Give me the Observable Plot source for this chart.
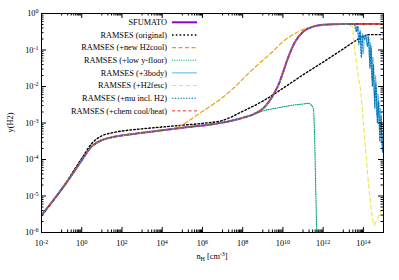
<!DOCTYPE html>
<html><head><meta charset="utf-8">
<script src="https://cdn.jsdelivr.net/npm/d3@7"></script>
<script src="https://cdn.jsdelivr.net/npm/@observablehq/plot@0.6"></script>
<style>body{margin:0;background:#fff}</style>
</head><body><div id="chart"></div>
<script>
// ---- tick labels (exponents of 10) ----
const xTickExp = [-2, 0, 2, 4, 6, 8, 10, 12, 14];
const yTickExp = [-6, -5, -4, -3, -2, -1, 0];

// ---- series names ----
const seriesNames = ["SFUMATO", "RAMSES (original)", "RAMSES (+new H2cool)", "RAMSES (+low y-floor)",
  "RAMSES (+3body)", "RAMSES (+H2fesc)", "RAMSES (+mu incl. H2)", "RAMSES (+chem cool/heat)"];

// ---- values (log10 nH, log10 y) ----
const baseLogN = [-2, -1.5, -1, -0.5, 0, 0.5, 1, 1.5, 2, 3, 4, 5, 6, 7, 7.5, 8, 8.5, 9, 9.3, 9.6, 9.8, 10, 10.3, 10.6, 11, 11.5, 12, 13, 14, 15];
const baseLogY = [-5.53, -5.18, -4.82, -4.43, -4.02, -3.64, -3.47, -3.39, -3.34, -3.27, -3.2, -3.13, -3.07, -2.99, -2.93, -2.86, -2.77, -2.61, -2.42, -2.15, -1.93, -1.62, -1.15, -0.78, -0.5, -0.36, -0.31, -0.29, -0.29, -0.29];

const origLogN = [-2, -1, 0, 0.5, 1, 1.5, 2, 3, 4, 5, 6, 7, 8, 9, 10, 11, 12, 13, 13.6, 14, 14.3, 15];
const origLogY = [-5.53, -4.81, -3.97, -3.56, -3.35, -3.27, -3.22, -3.16, -3.11, -3.06, -3.01, -2.93, -2.68, -2.4, -2.05, -1.68, -1.33, -0.97, -0.75, -0.62, -0.58, -0.58];

const coolCut = 4;
const coolLogN = [4.5, 5, 5.5, 6, 6.5, 7, 7.5, 8, 8.5, 9, 9.5, 10, 10.5, 11, 11.5, 12, 12.5, 13, 14, 15];
const coolLogY = [-3.17, -3.05, -2.87, -2.68, -2.5, -2.3, -2.07, -1.8, -1.53, -1.28, -1.04, -0.77, -0.58, -0.44, -0.36, -0.31, -0.29, -0.29, -0.29, -0.29];

const floorCut = 8.5;
const floorLogN = [8.8, 9, 9.5, 10, 10.5, 11, 11.26, 11.4, 11.51, 11.56, 11.62, 11.7];
const floorLogY = [-2.71, -2.67, -2.61, -2.56, -2.51, -2.48, -2.46, -2.5, -2.6, -3.07, -4.5, -6.5];

const bodyCut = 13;
const bodyLogN = [13.6, 13.7, 13.75, 13.8, 13.85, 13.9, 13.95, 14.0, 14.05, 14.15, 14.25, 14.3, 14.35, 14.42, 14.47, 14.55, 14.6, 14.68, 14.73, 14.8, 14.85, 14.93, 15.0];
const bodyLogY = [-0.3, -0.45, -0.35, -0.7, -0.45, -0.9, -0.55, -1.1, -0.6, -0.75, -0.6, -1.2, -0.8, -1.8, -1.2, -2.3, -1.7, -2.8, -2.2, -3.2, -2.6, -3.6, -3.2];

const fescCut = 13;
const fescLogN = [13.45, 13.5, 13.55, 13.62, 13.68, 13.75, 13.85, 14.0, 14.15, 14.3, 14.45, 14.52, 14.7, 14.9, 15.0];
const fescLogY = [-0.35, -0.6, -0.9, -1.2, -1.45, -1.75, -2.05, -3.0, -4.0, -4.9, -5.6, -5.8, -5.6, -5.4, -5.25];

const muCut = 13;
const muLogN = [13.55, 13.65, 13.7, 13.78, 13.83, 13.9, 13.97, 14.05, 14.12, 14.2, 14.26, 14.33, 14.38, 14.45, 14.5, 14.57, 14.62, 14.7, 14.76, 14.82, 14.88, 14.95, 15.0];
const muLogY = [-0.3, -0.5, -0.35, -0.85, -0.5, -1.2, -0.6, -0.7, -0.58, -0.9, -0.65, -1.5, -0.9, -2.0, -1.4, -2.6, -1.9, -3.0, -2.4, -3.5, -2.8, -3.8, -3.3];

// ---- styles ----
const styles = [
  {stroke: "#9400d3", strokeWidth: 2, dash: null},
  {stroke: "#000000", strokeWidth: 1.4, dash: "1.6,2.2"},
  {stroke: "#e69f00", strokeWidth: 1.1, dash: "4,2.5"},
  {stroke: "#009e73", strokeWidth: 1.1, dash: "1,1.3"},
  {stroke: "#56b4e9", strokeWidth: 1, dash: null},
  {stroke: "#f0e442", strokeWidth: 1.1, dash: "4,3"},
  {stroke: "#0072b2", strokeWidth: 1.1, dash: "1.4,1.4"},
  {stroke: "#e51e10", strokeWidth: 0.9, dash: "3,2.5"}
];

function pts(ln, ly) { return ln.map((v, i) => ({x: 10 ** v, y: 10 ** ly[i]})); }
function withTail(cut, ln, ly) {
  const head = baseLogN.map((v, i) => [v, baseLogY[i]]).filter(d => d[0] <= cut);
  return pts(head.map(d => d[0]).concat(ln), head.map(d => d[1]).concat(ly));
}
const seriesData = [
  pts(baseLogN, baseLogY),
  pts(origLogN, origLogY),
  withTail(coolCut, coolLogN, coolLogY),
  withTail(floorCut, floorLogN, floorLogY),
  withTail(bodyCut, bodyLogN, bodyLogY),
  withTail(fescCut, fescLogN, fescLogY),
  withTail(muCut, muLogN, muLogY),
  pts(baseLogN, baseLogY)
];

// ---- ticks ----
const xMajor = xTickExp.map(e => 10 ** e);
const xMinor = [];
for (let e = -1; e <= 13; e += 2) for (let k = 1; k <= 9; k++) xMinor.push(k * 10 ** e);
const yMajor = yTickExp.map(e => 10 ** e);
const yMinor = [];
for (let e = -6; e < 0; e++) for (let k = 2; k <= 9; k++) yMinor.push(k * 10 ** e);

const W = 399, H = 280, mL = 41, mR = 16, mT = 13, mB = 48;
const fw = W - mL - mR, fh = H - mT - mB;
const FONT = "Liberation Serif, Times New Roman, serif";
const expFmt = d => "10^" + Math.round(Math.log10(d));

const lineMarks = seriesData.map((data, i) => Plot.line(data, {
  x: "x", y: "y", stroke: styles[i].stroke, strokeWidth: styles[i].strokeWidth,
  strokeDasharray: styles[i].dash, clip: true, curve: "monotone-x"
}));

const plot = Plot.plot({
  width: W, height: H, marginLeft: mL, marginRight: mR, marginTop: mT, marginBottom: mB,
  style: {fontFamily: FONT, fontSize: "8.3px", background: "white", color: "black"},
  x: {type: "log", domain: [1e-2, 1e15]},
  y: {type: "log", domain: [1e-6, 1]},
  marks: [
    ...lineMarks,
    Plot.tickX(xMajor, {x: d => d, insetTop: fh - 5, stroke: "black"}),
    Plot.tickX(xMajor, {x: d => d, insetBottom: fh - 5, stroke: "black"}),
    Plot.tickX(xMinor, {x: d => d, insetTop: fh - 2.5, stroke: "black"}),
    Plot.tickX(xMinor, {x: d => d, insetBottom: fh - 2.5, stroke: "black"}),
    Plot.tickY(yMajor, {y: d => d, insetRight: fw - 5, stroke: "black"}),
    Plot.tickY(yMajor, {y: d => d, insetLeft: fw - 5, stroke: "black"}),
    Plot.tickY(yMinor, {y: d => d, insetRight: fw - 2.5, stroke: "black"}),
    Plot.tickY(yMinor, {y: d => d, insetLeft: fw - 2.5, stroke: "black"}),
    Plot.axisX({ticks: xMajor, tickSize: 0, tickPadding: 8, tickFormat: expFmt, label: null}),
    Plot.axisY({ticks: yMajor, tickSize: 0, tickPadding: 3, tickFormat: expFmt, label: null}),
    Plot.frame({stroke: "black", strokeWidth: 1})
  ]
});

const svg = d3.select(plot);
// superscripts on tick labels
svg.selectAll("text").each(function() {
  const t = d3.select(this);
  if (t.selectAll("tspan").size() > 0) return;
  const m = /^10\^(-?\d+)$/.exec(t.text());
  if (!m) return;
  t.text("10");
  t.append("tspan").attr("dy", "-0.45em").attr("font-size", "6px").text(m[1]);
});

// axis titles
const xt = svg.append("text").attr("x", mL + fw / 2).attr("y", 259).attr("text-anchor", "middle")
  .attr("font-family", FONT).attr("font-size", "8.3px").attr("fill", "black");
xt.append("tspan").text("n");
xt.append("tspan").attr("dy", "2").attr("font-size", "6px").text("H");
xt.append("tspan").attr("dy", "-2").text(" [cm");
xt.append("tspan").attr("dy", "-3.5").attr("font-size", "6px").text("-3");
xt.append("tspan").attr("dy", "3.5").text("]");

svg.append("text").attr("transform", `translate(13,${mT + fh / 2}) rotate(-90)`)
  .attr("text-anchor", "middle").attr("font-family", FONT).attr("font-size", "8.3px")
  .attr("fill", "black").text("y(H2)");

// legend
const lg = svg.append("g");
seriesNames.forEach((name, i) => {
  const y = 22.3 + i * 12.65;
  lg.append("text").attr("x", 167).attr("y", y).attr("dy", "0.32em").attr("text-anchor", "end")
    .attr("font-family", FONT).attr("font-size", "8.3px").attr("fill", "black").text(name);
  const s = styles[i];
  lg.append("line").attr("x1", 172).attr("x2", 197).attr("y1", y).attr("y2", y)
    .attr("stroke", s.stroke).attr("stroke-width", s.strokeWidth)
    .attr("stroke-dasharray", s.dash);
});

document.getElementById("chart").appendChild(plot);
</script></body></html>
